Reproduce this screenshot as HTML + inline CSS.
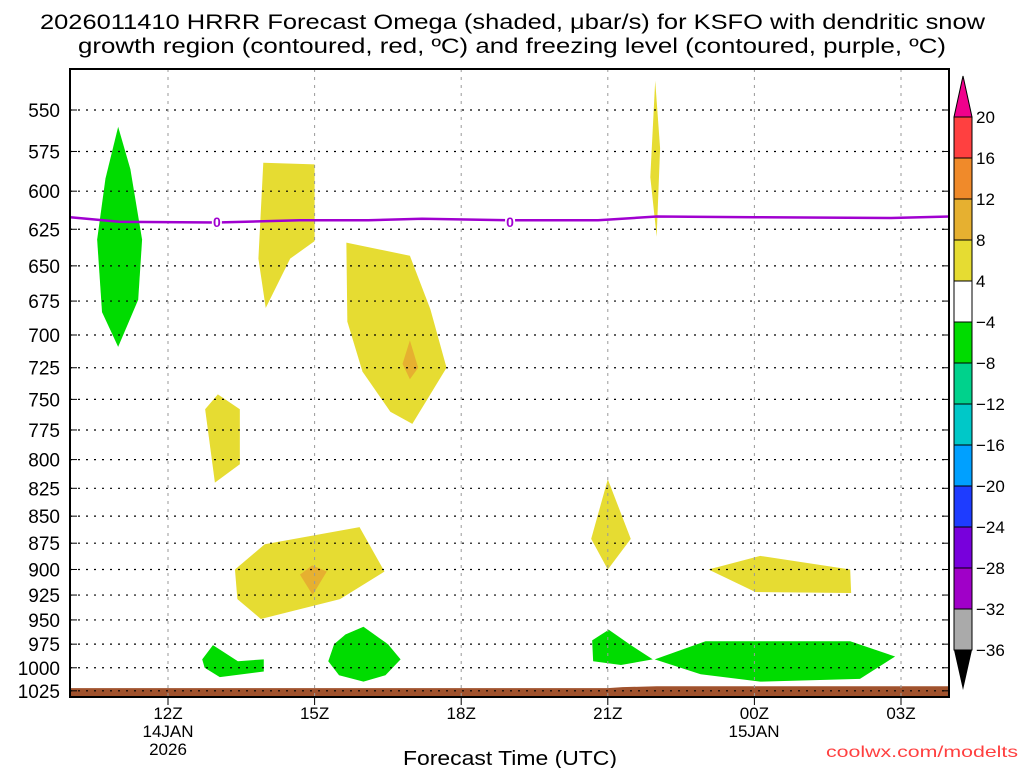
<!DOCTYPE html>
<html><head><meta charset="utf-8"><style>
body{margin:0;background:#fff;width:1024px;height:768px;overflow:hidden;font-family:"Liberation Sans",sans-serif}
svg text{font-family:"Liberation Sans",sans-serif}
</style></head><body>
<svg id="c" width="1024" height="768">
<text x="40" y="29" font-size="21" textLength="945" lengthAdjust="spacingAndGlyphs">2026011410 HRRR Forecast Omega (shaded, μbar/s) for KSFO with dendritic snow</text>
<text x="78" y="53" font-size="21" textLength="868" lengthAdjust="spacingAndGlyphs">growth region (contoured, red, ºC) and freezing level (contoured, purple, ºC)</text>
<g id="plot"></g>
<text x="403" y="765" font-size="20" textLength="214" lengthAdjust="spacingAndGlyphs">Forecast Time (UTC)</text>
<text x="826" y="757" font-size="16" fill="#ff4040" textLength="192" lengthAdjust="spacingAndGlyphs">coolwx.com/modelts</text>
</svg>
<script>
const pTicks=[550,575,600,625,650,675,700,725,750,775,800,825,850,875,900,925,950,975,1000,1025];
const hTicks=[12,15,18,21,24,27];
const hLabels=["12Z","15Z","18Z","21Z","00Z","03Z"];
const fzHours=[10,11,13,14.7,16.1,17.2,19,20.8,22,24,26.8,28];
const fzPres=[617,620,620.5,619,619,618,619,619,616.5,617,617.5,616.5];
const yellowShapes=[
 [[13.95,582],[15,583],[15,633],[14.5,645],[14,680],[13.85,645]],
 [[15.65,634],[16.95,643],[17.37,681],[17.7,725],[17,770],[16.55,760],[15.98,728],[15.67,690]],
 [[21.97,533],[22.07,573],[22,630],[21.87,591]],
 [[13.02,746],[13.47,758],[13.47,804],[12.96,820],[12.76,758]],
 [[13.37,900],[13.98,876],[15.92,860],[16.43,902],[15.52,929],[13.9,949],[13.42,929]],
 [[21,817],[21.47,871],[21,900],[20.66,871]],
 [[23.06,900],[24.12,887],[25.96,900],[25.98,923],[24.02,922]]
];
const orangeShapes=[
 [[16.95,704],[17.12,725],[16.95,734],[16.8,722]],
 [[14.7,905],[14.95,896],[15.25,902],[14.96,925]]
];
const greenShapes=[
 [[10.98,560],[11.23,586],[11.47,632],[11.39,674],[10.98,709],[10.65,683],[10.55,632],[10.72,592]],
 [[12.92,976],[13.43,993],[13.96,991],[13.96,1004],[13.06,1010],[12.75,1000],[12.7,991]],
 [[16,957],[16.5,975],[16.76,991],[16.45,1008],[16,1015],[15.5,1008],[15.28,993],[15.4,975],[15.63,965]],
 [[21.02,960],[21.47,976],[21.92,991],[21.27,997],[20.7,993],[20.68,971]],
 [[21.96,991],[23,972],[25.96,972],[26.88,988],[26.16,1012],[24.12,1015],[22.9,1007]]
];
const terrainHours=[10,21,21.3,22,28];
const terrainPres=[1022,1022,1021,1020,1020];
const cbLabels=["20","16","12","8","4","−4","−8","−12","−16","−20","−24","−28","−32","−36"];
const cbColors=["#ff4040","#f08a2a","#e6b030","#e6dc32","#ffffff","#00dc00","#00d28c","#00c8c8","#00a0ff","#1e3cff","#7800dc","#a000c8","#aaaaaa"];

const L=70,R=949,T=69,B=697;
const X=h=>168+(h-12)*(146.6/3);
const Y=p=>110+933*Math.log(p/550);
const NS="http://www.w3.org/2000/svg";
const g=document.getElementById('plot');
function mk(t,a,par){const e=document.createElementNS(NS,t);for(const k in a)e.setAttribute(k,a[k]);(par||g).appendChild(e);return e;}
function poly(pts,fill,name){const e=mk('polygon',{points:pts.map(q=>X(q[0])+','+Y(q[1])).join(' '),fill:fill});

}
greenShapes.forEach((s,i)=>poly(s,'#00dc00','omega-green-region-'+i));
yellowShapes.forEach((s,i)=>poly(s,'#e6dc32','omega-yellow-region-'+i));
orangeShapes.forEach((s,i)=>poly(s,'#e6b030','omega-orange-region-'+i));
const tp=terrainHours.map((h,i)=>[h,terrainPres[i]]);
const ter=mk('polygon',{points:tp.map(q=>X(q[0])+','+Y(q[1])).join(' ')+` ${R},${B} ${L},${B}`,fill:'#a0522d'});


pTicks.forEach(p=>{const y=Y(p);
 const l=mk('line',{x1:L,x2:R,y1:y,y2:y,stroke:'#000','stroke-dasharray':'2,6','stroke-width':1.2});
 
 
 mk('line',{x1:L,x2:L+7,y1:y,y2:y,stroke:'#000'});mk('line',{x1:R-7,x2:R,y1:y,y2:y,stroke:'#000'});
 const t=mk('text',{x:60,y:y+7,'font-size':19,'text-anchor':'end'});t.textContent=p;
 
 });
hTicks.forEach((h,i)=>{const x=X(h);
 const l=mk('line',{x1:x,x2:x,y1:T,y2:B,stroke:'#999','stroke-dasharray':'3,5'});
 
 
 mk('line',{x1:x,x2:x,y1:B,y2:B+8,stroke:'#000'});
 const t=mk('text',{x:x,y:719,'font-size':17,'text-anchor':'middle'});t.textContent=hLabels[i];
 
 });
[["14JAN",168,737],["2026",168,755],["15JAN",754,737]].forEach(a=>{const t=mk('text',{x:a[1],y:a[2],'font-size':17,'text-anchor':'middle'});t.textContent=a[0];
 
 });
const fz=mk('polyline',{points:fzHours.map((h,i)=>X(h)+','+Y(fzPres[i])).join(' '),fill:'none',stroke:'#a000d0','stroke-width':2.5});


[13,19].forEach(h=>{const x=X(h),y=Y(620);mk('rect',{x:x-5,y:y-8,width:10,height:16,fill:'#fff'});
 const t=mk('text',{x:x,y:y+5,'font-size':14,'text-anchor':'middle',fill:'#a000d0','font-weight':'bold'});t.textContent='0';
 
 });
const fr=mk('rect',{x:L,y:T,width:R-L,height:B-T,fill:'none',stroke:'#000','stroke-width':2});


const cbTop=117,seg=41,cx=954,cw=18;
const cb=mk('g',{});
mk('polygon',{points:`${cx},${cbTop} ${cx+cw},${cbTop} ${cx+cw/2},76`,fill:'#f0008c',stroke:'#000'},cb);
cbColors.forEach((c,i)=>mk('rect',{x:cx,y:cbTop+i*seg,width:cw,height:seg,fill:c,stroke:'#000'},cb));
const cbB=cbTop+cbColors.length*seg;
mk('polygon',{points:`${cx},${cbB} ${cx+cw},${cbB} ${cx+cw/2},690`,fill:'#000'},cb);
cbLabels.forEach((s,i)=>{const t=mk('text',{x:976,y:cbTop+i*seg+6,'font-size':17},cb);t.textContent=s;
 
 });
</script>
</body></html>
